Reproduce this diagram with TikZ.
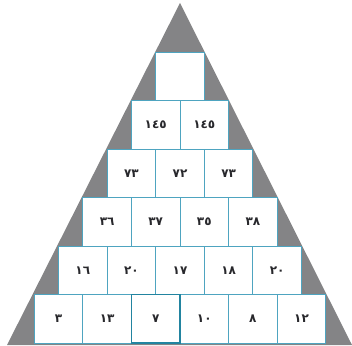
\documentclass[tikz,border=0pt]{standalone}
\usepackage{fontspec}
\newfontfamily\arabicfont[Script=Arabic]{DejaVu Sans}
\definecolor{trigray}{RGB}{132,132,134}
\definecolor{cellline}{RGB}{78,164,192}
\definecolor{keyline}{RGB}{34,132,160}
\definecolor{digit}{RGB}{40,40,44}
\tikzset{
  cell/.style={draw=cellline, line width=0.9pt, fill=white,
    minimum width=48.6pt, minimum height=48.5pt, inner sep=0pt,
    font=\arabicfont\bfseries\fontsize{12}{12}\selectfont, text=digit},
  keycell/.style={cell, draw=keyline, line width=1.8pt}
}
\begin{document}
\begin{tikzpicture}[x=1pt,y=1pt]
\useasboundingbox (0,0) rectangle (352,345);
% grey triangle behind the number pyramid
\fill[trigray] (180,342) -- (7,0) -- (352,0) -- cycle;

% row 1 (top)
\node[cell] (r1c1) at (180,268.75) {};
% row 2
\node[cell] (r2c1) at (155.7,220.25) {١٤٥};
\node[cell] (r2c2) at (204.3,220.25) {١٤٥};
% row 3
\node[cell] (r3c1) at (131.4,171.75) {٧٣};
\node[cell] (r3c2) at (180,171.75) {٧٢};
\node[cell] (r3c3) at (228.6,171.75) {٧٣};
% row 4
\node[cell] (r4c1) at (107.1,123.25) {٣٦};
\node[cell] (r4c2) at (155.7,123.25) {٣٧};
\node[cell] (r4c3) at (204.3,123.25) {٣٥};
\node[cell] (r4c4) at (252.9,123.25) {٣٨};
% row 5
\node[cell] (r5c1) at (82.8,74.75) {١٦};
\node[cell] (r5c2) at (131.4,74.75) {٢٠};
\node[cell] (r5c3) at (180,74.75) {١٧};
\node[cell] (r5c4) at (228.6,74.75) {١٨};
\node[cell] (r5c5) at (277.2,74.75) {٢٠};
% row 6 (base)
\node[cell] (r6c1) at (58.5,26.25) {٣};
\node[cell] (r6c2) at (107.1,26.25) {١٣};
\node[cell] (r6c4) at (204.3,26.25) {١٠};
\node[cell] (r6c5) at (252.9,26.25) {٨};
\node[cell] (r6c6) at (301.5,26.25) {١٢};
\node[keycell] (r6c3) at (155.7,26.25) {٧};
\end{tikzpicture}
\end{document}
